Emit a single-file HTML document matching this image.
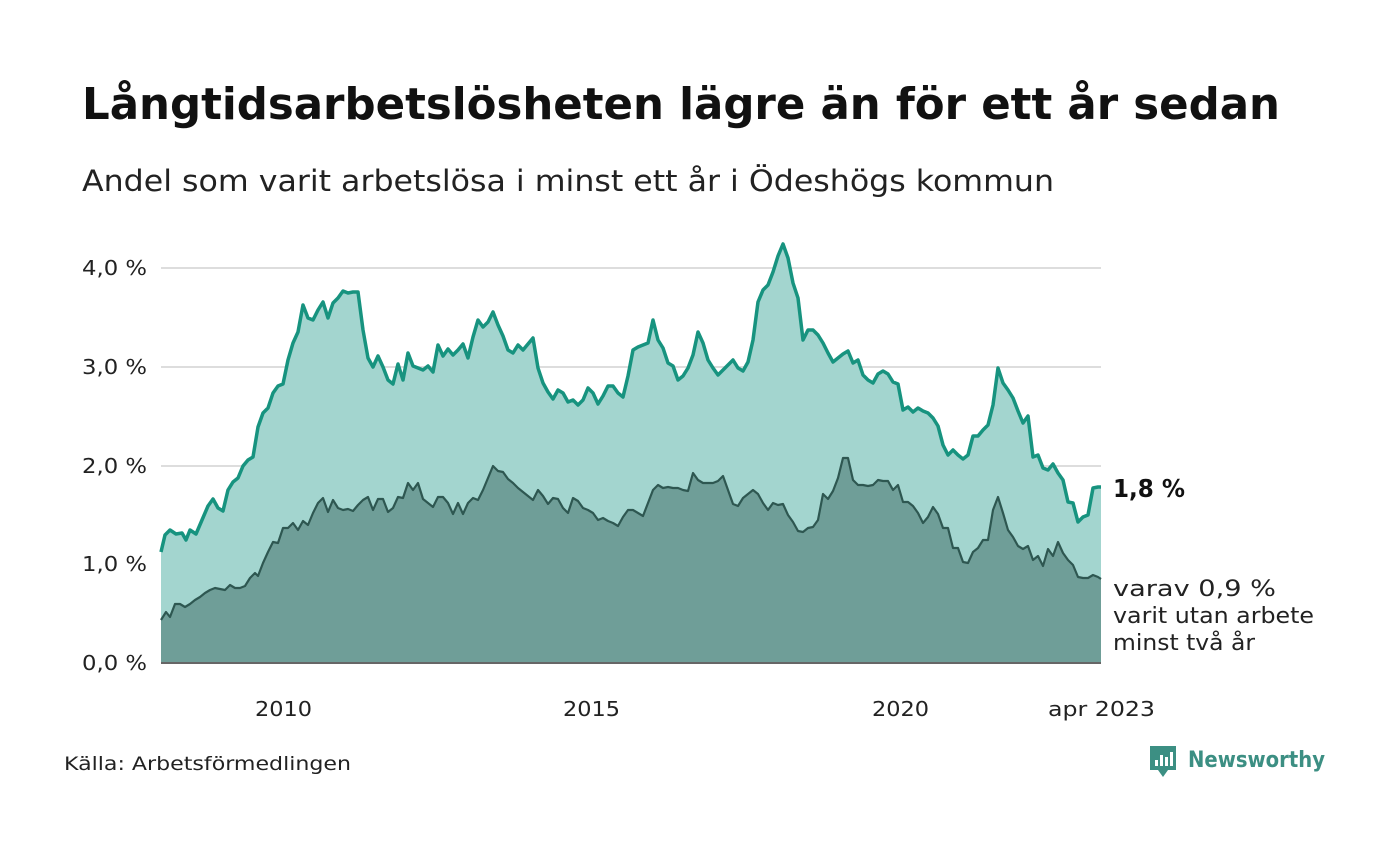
<!DOCTYPE html>
<html><head><meta charset="utf-8"><style>
body{margin:0;background:#fff;width:1400px;height:840px;overflow:hidden;font-family:"DejaVu Sans","Liberation Sans",sans-serif;}
</style></head><body>
<svg width="1400" height="840" viewBox="0 0 1400 840" xmlns="http://www.w3.org/2000/svg" font-family="'DejaVu Sans','Liberation Sans',sans-serif">
<text x="82" y="119" font-size="44" font-weight="bold" fill="#111" textLength="1198" lengthAdjust="spacingAndGlyphs">Långtidsarbetslösheten lägre än för ett år sedan</text>
<text x="82" y="191" font-size="29" fill="#222" textLength="972" lengthAdjust="spacingAndGlyphs">Andel som varit arbetslösa i minst ett år i Ödeshögs kommun</text>
<g stroke="#dddddd" stroke-width="2">
<line x1="161" y1="268" x2="1101" y2="268"/><line x1="161" y1="367" x2="1101" y2="367"/><line x1="161" y1="466" x2="1101" y2="466"/><line x1="161" y1="564" x2="1101" y2="564"/>
</g>
<g font-size="20" fill="#222">
<text x="82" y="275" textLength="65" lengthAdjust="spacingAndGlyphs">4,0 %</text><text x="82" y="374" textLength="65" lengthAdjust="spacingAndGlyphs">3,0 %</text><text x="82" y="473" textLength="65" lengthAdjust="spacingAndGlyphs">2,0 %</text><text x="82" y="571" textLength="65" lengthAdjust="spacingAndGlyphs">1,0 %</text><text x="82" y="670" textLength="65" lengthAdjust="spacingAndGlyphs">0,0 %</text>
</g>
<polygon fill="#a3d5cf" points="161,662 161,552 165,535 170,530 176,534 182,533 186,540 190,530 196,534 202,520 208,506 213,499 218,508 223,511 228,490 233,482 238,478 243,466 248,460 253,457 258,427 263,413 268,408 273,393 278,386 283,384 288,360 293,343 298,332 303,305 308,318 313,320 318,310 323,302 328,318 333,303 338,298 343,291 348,293 353,292 358,292 363,330 368,358 373,367 378,356 383,367 388,380 393,384 398,364 403,380 408,353 413,366 418,368 423,370 428,366 433,372 438,345 443,356 448,349 453,355 458,350 463,344 468,358 473,337 478,320 483,327 488,322 493,312 498,325 503,336 508,350 513,353 518,345 523,350 528,344 533,338 538,368 543,383 548,392 553,399 558,390 563,393 568,402 573,400 578,405 583,400 588,388 593,393 598,404 603,396 608,386 613,386 618,393 623,397 628,376 633,350 638,347 643,345 648,343 653,320 658,340 663,348 668,363 673,366 678,380 683,376 688,368 693,355 698,332 703,343 708,360 713,368 718,375 723,370 728,365 733,360 738,368 743,371 748,362 753,340 758,302 763,290 768,285 773,272 778,256 783,244 788,258 793,283 798,298 803,340 808,330 813,330 818,335 823,343 828,353 833,362 838,358 843,354 848,351 853,363 858,360 863,375 868,380 873,383 878,374 883,371 888,374 893,382 898,384 903,410 908,407 913,412 918,408 923,411 928,413 933,418 938,426 943,445 948,455 953,450 958,455 963,459 968,455 973,436 978,436 983,430 988,425 993,405 998,368 1003,383 1008,390 1013,398 1018,411 1023,423 1028,416 1033,457 1038,455 1043,468 1048,470 1053,464 1058,473 1063,480 1068,502 1073,503 1078,522 1083,517 1088,515 1093,488 1098,487 1101,487 1101,662"/>
<polyline fill="none" stroke="#17937f" stroke-width="3.5" stroke-linejoin="round" points="161,552 165,535 170,530 176,534 182,533 186,540 190,530 196,534 202,520 208,506 213,499 218,508 223,511 228,490 233,482 238,478 243,466 248,460 253,457 258,427 263,413 268,408 273,393 278,386 283,384 288,360 293,343 298,332 303,305 308,318 313,320 318,310 323,302 328,318 333,303 338,298 343,291 348,293 353,292 358,292 363,330 368,358 373,367 378,356 383,367 388,380 393,384 398,364 403,380 408,353 413,366 418,368 423,370 428,366 433,372 438,345 443,356 448,349 453,355 458,350 463,344 468,358 473,337 478,320 483,327 488,322 493,312 498,325 503,336 508,350 513,353 518,345 523,350 528,344 533,338 538,368 543,383 548,392 553,399 558,390 563,393 568,402 573,400 578,405 583,400 588,388 593,393 598,404 603,396 608,386 613,386 618,393 623,397 628,376 633,350 638,347 643,345 648,343 653,320 658,340 663,348 668,363 673,366 678,380 683,376 688,368 693,355 698,332 703,343 708,360 713,368 718,375 723,370 728,365 733,360 738,368 743,371 748,362 753,340 758,302 763,290 768,285 773,272 778,256 783,244 788,258 793,283 798,298 803,340 808,330 813,330 818,335 823,343 828,353 833,362 838,358 843,354 848,351 853,363 858,360 863,375 868,380 873,383 878,374 883,371 888,374 893,382 898,384 903,410 908,407 913,412 918,408 923,411 928,413 933,418 938,426 943,445 948,455 953,450 958,455 963,459 968,455 973,436 978,436 983,430 988,425 993,405 998,368 1003,383 1008,390 1013,398 1018,411 1023,423 1028,416 1033,457 1038,455 1043,468 1048,470 1053,464 1058,473 1063,480 1068,502 1073,503 1078,522 1083,517 1088,515 1093,488 1098,487 1101,487"/>
<polygon fill="#6f9e98" points="161,662 161,620 166,612 170,617 175,604 180,604 185,607 190,604 195,600 200,597 205,593 210,590 215,588 220,589 225,590 230,585 235,588 240,588 245,586 250,578 255,573 258,576 263,563 268,552 273,542 278,543 283,528 288,528 293,523 298,530 303,521 308,525 313,513 318,503 323,498 328,512 333,500 338,508 343,510 348,509 353,511 358,505 363,500 368,497 373,510 378,499 383,499 388,512 393,508 398,497 403,498 408,483 413,490 418,483 423,499 428,503 433,507 438,497 443,497 448,503 453,514 458,503 463,514 468,503 473,498 478,500 483,490 488,478 493,466 498,471 503,472 508,479 513,483 518,488 523,492 528,496 533,500 538,490 543,496 548,504 553,498 558,499 563,508 568,513 573,498 578,501 583,508 588,510 593,513 598,520 603,518 608,521 613,523 618,526 623,517 628,510 633,510 638,513 643,516 648,503 653,490 658,485 663,488 668,487 673,488 678,488 683,490 688,491 693,473 698,480 703,483 708,483 713,483 718,481 723,476 728,490 733,504 738,506 743,498 748,494 753,490 758,494 763,503 768,510 773,503 778,505 783,504 788,515 793,522 798,531 803,532 808,528 813,527 818,520 823,494 828,499 833,491 838,478 843,458 848,458 853,480 858,485 863,485 868,486 873,485 878,480 883,481 888,481 893,490 898,485 903,502 908,502 913,506 918,513 923,523 928,517 933,507 938,514 943,528 948,528 953,548 958,548 963,562 968,563 973,552 978,548 983,540 988,540 993,510 998,497 1003,513 1008,530 1013,537 1018,546 1023,549 1028,546 1033,560 1038,556 1043,566 1048,549 1053,556 1058,542 1063,553 1068,560 1073,565 1078,577 1083,578 1088,578 1093,575 1098,577 1101,579 1101,662"/>
<polyline fill="none" stroke="#2e5751" stroke-width="2.2" stroke-linejoin="round" points="161,620 166,612 170,617 175,604 180,604 185,607 190,604 195,600 200,597 205,593 210,590 215,588 220,589 225,590 230,585 235,588 240,588 245,586 250,578 255,573 258,576 263,563 268,552 273,542 278,543 283,528 288,528 293,523 298,530 303,521 308,525 313,513 318,503 323,498 328,512 333,500 338,508 343,510 348,509 353,511 358,505 363,500 368,497 373,510 378,499 383,499 388,512 393,508 398,497 403,498 408,483 413,490 418,483 423,499 428,503 433,507 438,497 443,497 448,503 453,514 458,503 463,514 468,503 473,498 478,500 483,490 488,478 493,466 498,471 503,472 508,479 513,483 518,488 523,492 528,496 533,500 538,490 543,496 548,504 553,498 558,499 563,508 568,513 573,498 578,501 583,508 588,510 593,513 598,520 603,518 608,521 613,523 618,526 623,517 628,510 633,510 638,513 643,516 648,503 653,490 658,485 663,488 668,487 673,488 678,488 683,490 688,491 693,473 698,480 703,483 708,483 713,483 718,481 723,476 728,490 733,504 738,506 743,498 748,494 753,490 758,494 763,503 768,510 773,503 778,505 783,504 788,515 793,522 798,531 803,532 808,528 813,527 818,520 823,494 828,499 833,491 838,478 843,458 848,458 853,480 858,485 863,485 868,486 873,485 878,480 883,481 888,481 893,490 898,485 903,502 908,502 913,506 918,513 923,523 928,517 933,507 938,514 943,528 948,528 953,548 958,548 963,562 968,563 973,552 978,548 983,540 988,540 993,510 998,497 1003,513 1008,530 1013,537 1018,546 1023,549 1028,546 1033,560 1038,556 1043,566 1048,549 1053,556 1058,542 1063,553 1068,560 1073,565 1078,577 1083,578 1088,578 1093,575 1098,577 1101,579"/>
<line x1="161" y1="663" x2="1101" y2="663" stroke="#333" stroke-width="1.5"/>
<g font-size="20" fill="#222">
<text x="255" y="716" textLength="57" lengthAdjust="spacingAndGlyphs">2010</text><text x="563" y="716" textLength="57" lengthAdjust="spacingAndGlyphs">2015</text><text x="872" y="716" textLength="57" lengthAdjust="spacingAndGlyphs">2020</text><text x="1048" y="716" textLength="107" lengthAdjust="spacingAndGlyphs">apr 2023</text>
</g>
<text x="1113" y="497" font-size="25" font-weight="bold" fill="#111" textLength="72" lengthAdjust="spacingAndGlyphs">1,8 %</text>
<g font-size="22" fill="#222">
<text x="1113" y="596" textLength="163" lengthAdjust="spacingAndGlyphs">varav 0,9 %</text><text x="1113" y="623" textLength="201" lengthAdjust="spacingAndGlyphs">varit utan arbete</text><text x="1113" y="650" textLength="142" lengthAdjust="spacingAndGlyphs">minst två år</text>
</g>
<text x="64" y="770" font-size="19" fill="#222" textLength="287" lengthAdjust="spacingAndGlyphs">Källa: Arbetsförmedlingen</text>
<g>
<path d="M1150,746 h26 v24 h-8 l-5,7 l-5,-7 h-8 z" fill="#3c8f83"/>
<rect x="1155" y="760" width="3" height="6" fill="#fff"/><rect x="1160" y="755" width="3" height="11" fill="#fff"/><rect x="1165" y="757" width="3" height="9" fill="#fff"/><rect x="1170" y="752" width="3" height="14" fill="#fff"/>
<text x="1188" y="767" font-size="22" font-weight="bold" fill="#3c8f83" textLength="137" lengthAdjust="spacingAndGlyphs">Newsworthy</text>
</g>
</svg>
</body></html>
